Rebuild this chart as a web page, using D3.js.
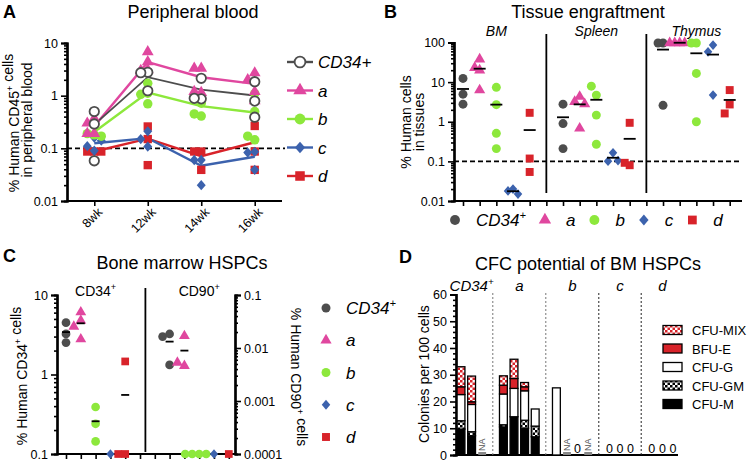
<!DOCTYPE html>
<html>
<head>
<meta charset="utf-8">
<script src="https://cdn.jsdelivr.net/npm/d3@7"></script>
<style>
body { margin: 0; background: #fff; }
svg { font-family: "Liberation Sans", Arial, sans-serif; }
</style>
</head>
<body>
<svg id="fig" width="747" height="463"></svg>
<script>
// ---------------- data ----------------
const groups = ["CD34+", "a", "b", "c", "d"];
const groupColors = ["#4d4d4d", "#e0479f", "#8de83c", "#3c62ad", "#d8232a"];

// A: peripheral blood, % human CD45+ per mouse, one array per week
const weeks = ["8wk", "12wk", "14wk", "16wk"];
const pbCD34 = [[0.50, 0.29, 0.058], [2.78, 2.73, 1.24], [2.14, 0.87, 0.89], [1.84, 0.79, 0.39]];
const pbA    = [[0.37, 0.30, 0.19, 0.19], [6.8, 4.4, 3.1, 3.0], [3.3, 3.3, 1.14, 1.2], [2.7, 2.0, 1.19, 0.8]];
const pbB    = [[0.18, 0.19, 0.17, 0.28], [1.72, 1.11, 1.06, 0.70], [0.72, 0.41, 0.45, 0.95], [1.1, 0.5, 0.145, 0.17]];
const pbC    = [[0.16, 0.09, 0.11, 0.14], [0.21, 0.15, 0.108], [0.06, 0.06, 0.02], [0.086, 0.083, 0.039]];
const pbD    = [[0.087, 0.087, 0.087], [0.26, 0.048, 0.15], [0.087, 0.087, 0.039], [0.266, 0.087, 0.039]];
const pbTicks = [0.01, 0.1, 1, 10];

// B: tissue engraftment, % human cells, one array per group
const tissues = ["BM", "Spleen", "Thymus"];
const bmVals     = [[2.78, 12.4, 4.97], [38, 20, 23, 6.3], [7.4, 2.7, 0.51, 0.21], [0.02, 0.018, 0.015], [1.68, 0.054, 0.118]];
const spleenVals = [[2.78, 0.9, 0.21], [4.3, 3.2, 2.8, 0.68], [4.7, 7.9, 1.47, 0.27], [0.164, 0.101, 0.105], [0.94, 0.08, 0.092]];
const thymusVals = [[98, 98, 2.6], [99, 98, 99, 98], [98, 98, 16.6, 1.0], [86, 58, 4.7], [6.3, 2.73, 1.62]];
const tissueTicks = [0.01, 0.1, 1, 10, 100];

// C: bone marrow HSPCs
const hspcPanels = ["CD34+", "CD90+"];
const cd34Vals = [[2.52, 4.49, 3.24], [6.07, 4.77, 4.0, 2.78], [0.39, 0.24, 0.144], [0.1], [1.46, 0.1, 0.1]];
const cd90Vals = [[0.0184, 0.0164, 0.0048], [0.0169, 0.0046, 0.0053], [0.0001, 0.0001, 0.0001, 0.0001], [0.0001], [0.0001]];
const cd34Ticks = [0.1, 1, 10];
const cd90Ticks = [0.0001, 0.001, 0.01, 0.1];

// D: CFC potential, colonies per 100 cells (null = NA)
const cfcTypes = ["CFU-M", "CFU-GM", "CFU-G", "BFU-E", "CFU-MIX"];
const cfcGroupOf = ["CD34+", "CD34+", "CD34+", "a", "a", "a", "a", "b", "b", "b", "b", "c", "c", "c", "d", "d", "d"];
const cfuM   = [9.7, 7.2, null, 10.5, 14.3, 10.0, 6.8, 0, null, 0, null, 0, 0, 0, 0, 0, 0];
const cfuGM  = [3.1, 1.5, null, 0.8, 0, 3.0, 4.0, 0, null, 0, null, 0, 0, 0, 0, 0, 0];
const cfuG   = [9.8, 10.2, null, 11.5, 10.6, 11.0, 6.4, 25.1, null, 0, null, 0, 0, 0, 0, 0, 0];
const bfuE   = [2.9, 1.0, null, 3.3, 3.7, 1.5, 0, 0, null, 0, null, 0, 0, 0, 0, 0, 0];
const cfuMix = [7.5, 9.6, null, 3.5, 7.2, 1.6, 0, 0, null, 0, null, 0, 0, 0, 0, 0, 0];
const cfcTicks = [0, 10, 20, 30, 40, 50, 60];

// ---------------- helpers ----------------
const svg = d3.select("#fig");
svg.append("rect").attr("width", 747).attr("height", 463).attr("fill", "#fff");

const diamond = {
    draw(ctx, size) {
        const r = Math.sqrt(size / 2);
        ctx.moveTo(0, -r * 1.15); ctx.lineTo(r, 0); ctx.lineTo(0, r * 1.15); ctx.lineTo(-r, 0); ctx.closePath();
    }
};
const shapes = [d3.symbolCircle, d3.symbolTriangle, d3.symbolCircle, diamond, d3.symbolSquare];

function marker(g, gi, x, y, scale = 1, open = false) {
    const sizes = [70, 60, 70, 40, 70];
    const p = g.append("path")
        .attr("d", d3.symbol().type(shapes[gi]).size(sizes[gi] * scale)())
        .attr("transform", `translate(${x},${y})`);
    if (open) p.attr("fill", "#fff").attr("stroke", groupColors[gi]).attr("stroke-width", 1.8);
    else p.attr("fill", groupColors[gi]);
    return p;
}

function minorLog(lo, hi) {
    const out = [];
    for (let d = lo; d < hi * 0.999; d *= 10)
        for (let k = 2; k <= 9; k++) out.push(+(k * d).toPrecision(3));
    return out;
}

// spread out points that would overlap (column scatter jitter)
function dodge(vals, ys, step, dyMin) {
    const placed = [];
    return vals.map(v => {
        const y = ys(v);
        for (let k = 0; k < 30; k++) {
            const off = k === 0 ? 0 : (k % 2 ? -1 : 1) * Math.ceil(k / 2) * step;
            if (placed.every(p => Math.abs(p.off - off) >= step * 0.9 || Math.abs(p.y - y) >= dyMin)) {
                placed.push({ off, y });
                return off;
            }
        }
        return 0;
    });
}

function styleAxis(g, fs = 12.5) {
    g.select(".domain").attr("stroke", "#000").attr("stroke-width", 2.2);
    g.selectAll(".tick line").attr("stroke", "#000").attr("stroke-width", 1.6);
    g.selectAll(".tick text").attr("fill", "#000").attr("font-size", fs)
        .attr("font-family", "'Liberation Sans', Arial, sans-serif");
}

function leftLogAxis(g, scale, x, ticks, lo, hi) {
    const m = g.append("g").attr("transform", `translate(${x},0)`)
        .call(d3.axisLeft(scale).tickValues(minorLog(lo, hi)).tickSize(3).tickFormat(""));
    styleAxis(m);
    const a = g.append("g").attr("transform", `translate(${x},0)`)
        .call(d3.axisLeft(scale).tickValues(ticks).tickSize(6).tickFormat(d => String(d)));
    styleAxis(a);
}

function sup(t, base, supText, size) {
    t.append("tspan").text(base);
    t.append("tspan").attr("font-size", size * 0.65).attr("dy", -size * 0.4).text(supText);
}

function panelLetter(x, y, s) {
    svg.append("text").attr("x", x).attr("y", y).attr("font-size", 18).attr("font-weight", "bold").text(s);
}
function title(x, y, s) {
    svg.append("text").attr("x", x).attr("y", y).attr("font-size", 18).attr("text-anchor", "middle").text(s);
}

function groupLabel(t, gi, size) {
    if (gi === 0) sup(t, "CD34", "+", size);
    else t.text(groups[gi]);
}

// ---------------- A: peripheral blood ----------------
panelLetter(3, 18, "A");
title(193, 18, "Peripheral blood");

const xA = d3.scalePoint().domain(weeks).range([67, 282]).padding(0.51);
const yA = d3.scaleLog().domain([0.01, 10]).range([201, 43]);
const gA = svg.append("g");

gA.append("line").attr("x1", 67).attr("x2", 285).attr("y1", yA(0.1)).attr("y2", yA(0.1))
    .attr("stroke", "#000").attr("stroke-width", 1.8).attr("stroke-dasharray", "5,3");

leftLogAxis(gA, yA, 67, pbTicks, 0.01, 10);
const axA = gA.append("g").attr("transform", "translate(0,201)").call(d3.axisBottom(xA).tickSize(5));
styleAxis(axA);
axA.select(".domain").attr("d", "M67,0H282");
axA.selectAll(".tick text").attr("text-anchor", "end").attr("transform", "rotate(-45)")
    .attr("dx", "-0.2em").attr("dy", "0.5em");

gA.append("text").attr("transform", "translate(19,123) rotate(-90)").attr("text-anchor", "middle")
    .attr("font-size", 14).call(t => sup(t, "% Human CD45", "+", 14)).append("tspan").text(" cells");
gA.append("text").attr("transform", "translate(32,120) rotate(-90)").attr("text-anchor", "middle")
    .attr("font-size", 14).text("in peripheral blood");

const pbAll = [pbCD34, pbA, pbB, pbC, pbD];
const lineA = d3.line().x((d, i) => xA(weeks[i])).y(d => yA(d));
const drawOrderA = [4, 3, 2, 1, 0];
drawOrderA.forEach(gi => {
    gA.append("path").datum(pbAll[gi].map(v => d3.mean(v)))
        .attr("d", lineA).attr("fill", "none").attr("stroke", groupColors[gi])
        .attr("stroke-width", gi === 0 ? 1.8 : 2.4);
});
drawOrderA.forEach(gi => {
    pbAll[gi].forEach((vals, wi) => {
        const offs = dodge(vals, yA, 7, 8);
        vals.forEach((v, k) => marker(gA, gi, xA(weeks[wi]) + offs[k], yA(v), 1, gi === 0));
    });
});

// legend A
const lyA = d3.scalePoint().domain(groups).range([62, 176]);
groups.forEach((g, gi) => {
    const y = lyA(g);
    gA.append("line").attr("x1", 287).attr("x2", 313).attr("y1", y).attr("y2", y)
        .attr("stroke", groupColors[gi]).attr("stroke-width", 2.4);
    marker(gA, gi, 300, y, 1.3, gi === 0);
    gA.append("text").attr("x", 318).attr("y", y + 6).attr("font-size", 17).attr("font-style", "italic")
        .text(g);
});

// ---------------- B: tissue engraftment ----------------
panelLetter(384, 18, "B");
title(588, 18, "Tissue engraftment");

const slotsB = d3.range(17);
const xB = d3.scalePoint().domain(slotsB).range([463, 729.7]);
const yB = d3.scaleLog().domain([0.01, 100]).range([201, 42.5]);
const gB = svg.append("g");
const tissueData = [bmVals, spleenVals, thymusVals];

gB.append("line").attr("x1", 454).attr("x2", 742).attr("y1", yB(0.1)).attr("y2", yB(0.1))
    .attr("stroke", "#000").attr("stroke-width", 1.8).attr("stroke-dasharray", "5,3");

leftLogAxis(gB, yB, 454, tissueTicks, 0.01, 100);
const axB = gB.append("g").attr("transform", "translate(0,201)")
    .call(d3.axisBottom(xB).tickSize(5).tickFormat(""));
styleAxis(axB);
axB.select(".domain").attr("d", "M454,0H742");

gB.append("text").attr("transform", "translate(411,122) rotate(-90)").attr("text-anchor", "middle")
    .attr("font-size", 14).text("% Human cells");
gB.append("text").attr("transform", "translate(424,122) rotate(-90)").attr("text-anchor", "middle")
    .attr("font-size", 14).text("in tissues");

tissues.forEach((t, ti) => {
    const first = xB(ti * 6), last = xB(ti * 6 + 4);
    gB.append("text").attr("x", (first + last) / 2).attr("y", 36).attr("text-anchor", "middle")
        .attr("font-size", 14).attr("font-style", "italic").text(t);
    if (ti > 0) {
        const xd = xB(ti * 6 - 1);
        gB.append("line").attr("x1", xd).attr("x2", xd).attr("y1", 34).attr("y2", 193)
            .attr("stroke", "#000").attr("stroke-width", 1.8);
    }
    tissueData[ti].forEach((vals, gi) => {
        const cx = xB(ti * 6 + gi);
        const offs = dodge(vals, yB, 5, 9);
        vals.forEach((v, k) => marker(gB, gi, cx + offs[k], Math.max(yB(v), 43), 0.9));
        const m = yB(d3.mean(vals));
        gB.append("line").attr("x1", cx - 6).attr("x2", cx + 6).attr("y1", m).attr("y2", m)
            .attr("stroke", "#000").attr("stroke-width", 1.8);
    });
});

// legend B: laid out left to right, marker then label
let lx = 455;
groups.forEach((g, gi) => {
    marker(gB, gi, lx, 220, 1.1);
    const t = gB.append("text").attr("x", lx + 21).attr("y", 226).attr("font-size", 17)
        .attr("font-style", "italic").call(t => groupLabel(t, gi, 17));
    lx = lx + 21 + t.node().getComputedTextLength() + 19;
});

// ---------------- C: bone marrow HSPCs ----------------
panelLetter(3, 262, "C");
title(182, 269, "Bone marrow HSPCs");

const slotsC = d3.range(12);
const xC = d3.scalePoint().domain(slotsC).range([66, 228.8]);
const yC = d3.scaleLog().domain([0.1, 10]).range([454, 295]);
const yC2 = d3.scaleLog().domain([0.0001, 0.1]).range([454, 295]);
const gC = svg.append("g");

leftLogAxis(gC, yC, 57, cd34Ticks, 0.1, 10);
const rm = gC.append("g").attr("transform", "translate(235,0)")
    .call(d3.axisRight(yC2).tickValues(minorLog(0.0001, 0.1)).tickSize(3).tickFormat(""));
styleAxis(rm);
const ra = gC.append("g").attr("transform", "translate(235,0)")
    .call(d3.axisRight(yC2).tickValues(cd90Ticks).tickSize(6).tickFormat(d => String(d)));
styleAxis(ra);
const axC = gC.append("g").attr("transform", "translate(0,454)")
    .call(d3.axisBottom(xC).tickSize(5).tickFormat(""));
styleAxis(axC);
axC.select(".domain").attr("d", "M57,0H235");

gC.append("text").attr("transform", "translate(27,376) rotate(-90)").attr("text-anchor", "middle")
    .attr("font-size", 14).call(t => sup(t, "% Human CD34", "+", 14)).append("tspan").text(" cells");
gC.append("text").attr("transform", "translate(291,377) rotate(90)").attr("text-anchor", "middle")
    .attr("font-size", 14).call(t => sup(t, "% Human CD90", "+", 14)).append("tspan").text(" cells");

const divC = (xC(5) + xC(6)) / 2 - 2;
gC.append("line").attr("x1", divC).attr("x2", divC).attr("y1", 288).attr("y2", 452)
    .attr("stroke", "#000").attr("stroke-width", 1.8);
gC.append("text").attr("x", (xC(0) + xC(4)) / 2).attr("y", 296).attr("text-anchor", "middle")
    .attr("font-size", 14).call(t => sup(t, "CD34", "+", 14));
gC.append("text").attr("x", (xC(7) + xC(11)) / 2).attr("y", 296).attr("text-anchor", "middle")
    .attr("font-size", 14).call(t => sup(t, "CD90", "+", 14));

[[cd34Vals, yC, 0], [cd90Vals, yC2, 7]].forEach(([data, ys, start]) => {
    data.forEach((vals, gi) => {
        const cx = xC(start + gi);
        const offs = dodge(vals, ys, 7, 8);
        vals.forEach((v, k) => marker(gC, gi, cx + offs[k], ys(v), 0.85));
        const m = ys(d3.mean(vals));
        if (m < 452) gC.append("line").attr("x1", cx - 4).attr("x2", cx + 4).attr("y1", m).attr("y2", m)
            .attr("stroke", "#000").attr("stroke-width", 1.8);
    });
});

// legend C
const lyC = d3.scalePoint().domain(groups).range([308, 437]);
groups.forEach((g, gi) => {
    const y = lyC(g);
    marker(gC, gi, 326, y, 0.9);
    gC.append("text").attr("x", 346).attr("y", y + 6).attr("font-size", 17).attr("font-style", "italic")
        .call(t => groupLabel(t, gi, 17));
});

// ---------------- D: CFC potential ----------------
panelLetter(399, 263, "D");
title(588, 270, "CFC potential of BM HSPCs");

// slot keys: samples with a gap slot between groups
const keysD = [];
const sampleKey = [];
cfcGroupOf.forEach((g, i) => {
    if (i > 0 && g !== cfcGroupOf[i - 1]) keysD.push("gap" + g);
    keysD.push("s" + i);
    sampleKey.push("s" + i);
});
const xD = d3.scalePoint().domain(keysD).range([461, 673]);
const bw = xD.step() * 0.74;
const yD = d3.scaleLinear().domain([0, 60]).range([455, 294.5]);
const gD = svg.append("g");

const defs = svg.append("defs");
function checker(id, col) {
    const p = defs.append("pattern").attr("id", id).attr("width", 5).attr("height", 5)
        .attr("patternUnits", "userSpaceOnUse");
    p.append("rect").attr("width", 5).attr("height", 5).attr("fill", "#fff");
    p.append("rect").attr("width", 2.5).attr("height", 2.5).attr("fill", col);
    p.append("rect").attr("x", 2.5).attr("y", 2.5).attr("width", 2.5).attr("height", 2.5).attr("fill", col);
}
checker("pGM", "#000");
checker("pMix", "#d8232a");
const cfcFill = ["#000", "url(#pGM)", "#fff", "#d8232a", "url(#pMix)"];

const yMinor = d3.range(0, 61, 2).filter(d => d % 10 !== 0);
const dm = gD.append("g").attr("transform", "translate(456,0)")
    .call(d3.axisLeft(yD).tickValues(yMinor).tickSize(3).tickFormat(""));
styleAxis(dm);
const da = gD.append("g").attr("transform", "translate(456,0)")
    .call(d3.axisLeft(yD).tickValues(cfcTicks).tickSize(6));
styleAxis(da);
gD.append("line").attr("x1", 455).attr("x2", 678).attr("y1", 455).attr("y2", 455)
    .attr("stroke", "#000").attr("stroke-width", 2.2);

gD.append("text").attr("transform", "translate(429,374) rotate(-90)").attr("text-anchor", "middle")
    .attr("font-size", 14).text("Colonies per 100 cells");

// group labels and dividers
groups.forEach((g, gi) => {
    const idx = cfcGroupOf.map((d, i) => d === g ? i : -1).filter(i => i >= 0);
    const cx = (xD(sampleKey[idx[0]]) + xD(sampleKey[idx[idx.length - 1]])) / 2;
    gD.append("text").attr("x", cx).attr("y", 291).attr("text-anchor", "middle").attr("font-size", 15)
        .attr("font-style", "italic").call(t => groupLabel(t, gi, 15));
    if (gi > 0) {
        const xd = xD("gap" + g);
        gD.append("line").attr("x1", xd).attr("x2", xd).attr("y1", 293).attr("y2", 455)
            .attr("stroke", gi < 3 ? "#777" : "#222").attr("stroke-width", 1).attr("stroke-dasharray", "2,2");
    }
});

const cfcRows = cfcGroupOf.map((g, i) => ({
    key: sampleKey[i],
    "CFU-M": cfuM[i], "CFU-GM": cfuGM[i], "CFU-G": cfuG[i], "BFU-E": bfuE[i], "CFU-MIX": cfuMix[i]
}));
const stackD = d3.stack().keys(cfcTypes).value((d, k) => d[k] || 0)(cfcRows);
stackD.forEach((layer, li) => {
    layer.forEach(seg => {
        if (seg[1] - seg[0] <= 0) return;
        gD.append("rect").attr("x", xD(seg.data.key) - bw / 2).attr("width", bw)
            .attr("y", yD(seg[1])).attr("height", yD(seg[0]) - yD(seg[1]))
            .attr("fill", cfcFill[li]).attr("stroke", "#000").attr("stroke-width", 1.3);
    });
});
cfcRows.forEach((r, i) => {
    const x = xD(r.key);
    if (cfuM[i] === null) {
        gD.append("rect").attr("x", x - bw / 2).attr("width", bw).attr("y", 452).attr("height", 3).attr("fill", "#888");
        gD.append("text").attr("transform", `translate(${x + 3},451) rotate(-90)`).attr("font-size", 9)
            .attr("fill", "#555").text("NA");
    } else if (cfcTypes.every(k => !r[k])) {
        gD.append("text").attr("x", x).attr("y", 453).attr("text-anchor", "middle").attr("font-size", 12.5).text("0");
    }
});

// legend D
const lyD = d3.scalePoint().domain(cfcTypes.slice().reverse()).range([330, 404]);
cfcTypes.forEach((t, ti) => {
    const y = lyD(t);
    gD.append("rect").attr("x", 663).attr("y", y - 4.5).attr("width", 19).attr("height", 9)
        .attr("fill", cfcFill[ti]).attr("stroke", "#000").attr("stroke-width", 1.3);
    gD.append("text").attr("x", 692).attr("y", y + 5).attr("font-size", 13).text(t);
});
</script>
</body>
</html>
